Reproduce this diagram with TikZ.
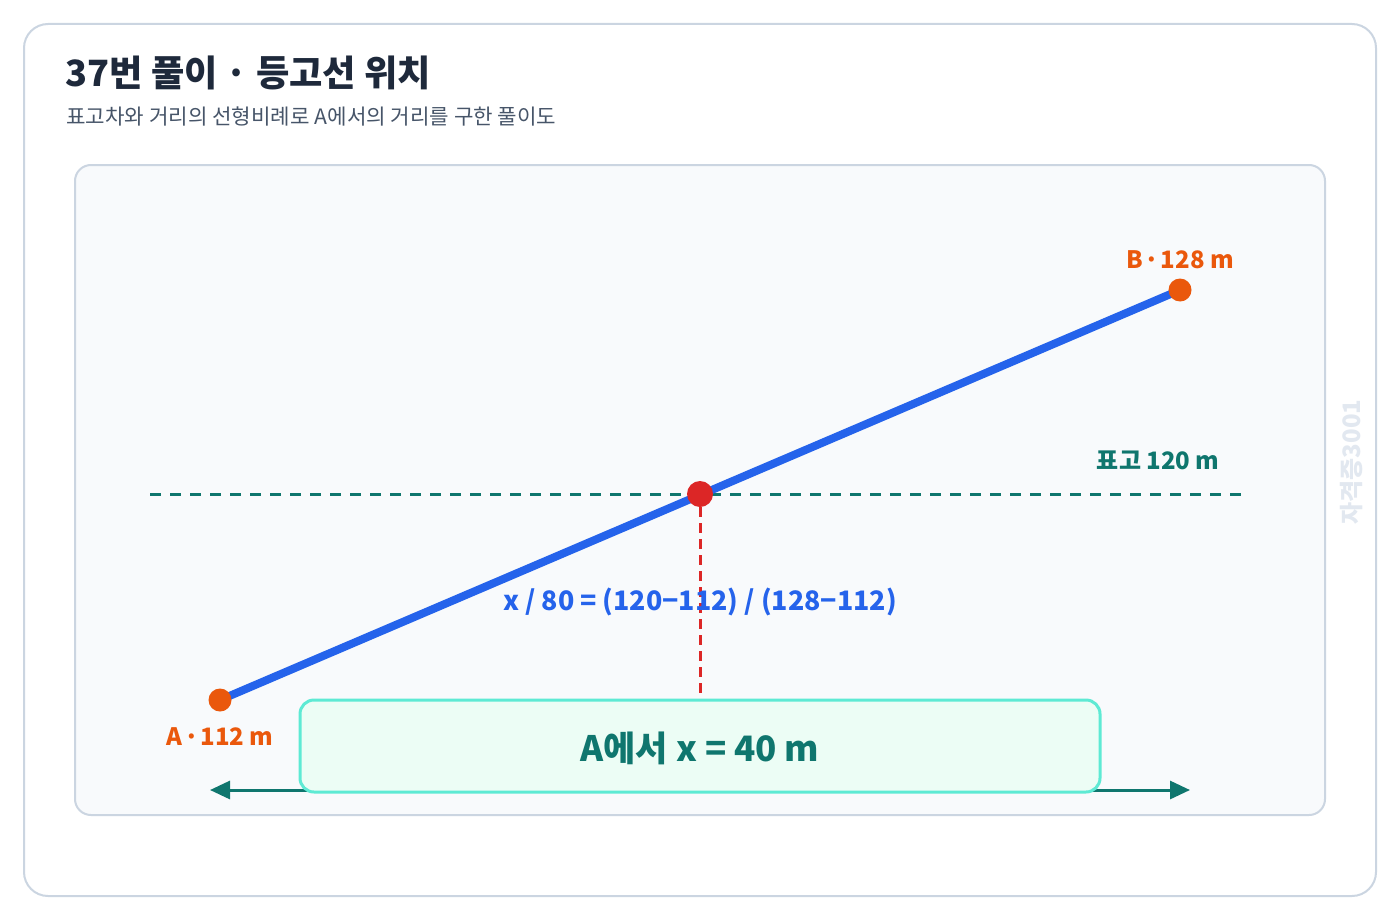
\documentclass[tikz,border=0pt]{standalone}
\usepackage{fontspec}
\setmainfont{Noto Sans CJK KR}
\usepackage{tikz}
\usetikzlibrary{arrows.meta}
\usetikzlibrary{positioning}
\definecolor{cadre}{HTML}{CBD5E1}
\definecolor{fond}{HTML}{F8FAFC}
\definecolor{titre}{HTML}{1E293B}
\definecolor{soustitre}{HTML}{475569}
\definecolor{bleu}{HTML}{2563EB}
\definecolor{orangept}{HTML}{EA580C}
\definecolor{rouge}{HTML}{DC2626}
\definecolor{sarcelle}{HTML}{0F766E}
\definecolor{menthe}{HTML}{ECFDF5}
\definecolor{bordmenthe}{HTML}{5EEAD4}
\definecolor{filigrane}{HTML}{E2E8F0}
\newcommand{\mdot}{\makebox[0.3em]{·}}
\tikzstyle{carte}=[draw=cadre,line width=1pt,fill=white,rounded corners=12pt]
\tikzstyle{panneau}=[draw=cadre,line width=1pt,fill=fond,rounded corners=8pt]
\tikzstyle{point}=[circle,fill=orangept,inner sep=0pt,minimum size=11.5pt]
\tikzstyle{inter}=[circle,fill=rouge,inner sep=0pt,minimum size=13pt]
\tikzstyle{etiq}=[text=orangept,inner sep=0pt,anchor=base,font=\bfseries\fontsize{12}{14}\selectfont]
\tikzstyle{resultat}=[rectangle,draw=bordmenthe,fill=menthe,line width=1.5pt,rounded corners=7pt,
minimum width=400pt,minimum height=46pt]
\tikzstyle{suite}=[line width=4pt,bleu]
\tikzstyle{niveau}=[line width=1.5pt,sarcelle,dash pattern=on 5.5pt off 4.5pt]
\tikzstyle{repere}=[line width=1.5pt,rouge,dash pattern=on 5pt off 3pt]
\tikzstyle{fleche}=[line width=1.5pt,sarcelle,{Triangle[length=10pt,width=9pt]}-{Triangle[length=10pt,width=9pt]}]
\begin{document}
\begin{tikzpicture}[x=0.5pt,y=-0.5pt]
\useasboundingbox (0,0) rectangle (1400,920);
\draw[carte] (24,24) rectangle (1376,896);
\draw[panneau] (75,165) rectangle (1325,815);
\node[anchor=base west,inner sep=0pt,text=titre,font=\bfseries\fontsize{18.1}{20}\selectfont] (titre) at (65,87) {37번 풀이 · 등고선 위치};
\node[anchor=base west,inner sep=0pt,text=soustitre,font=\fontsize{10.6}{12}\selectfont] (sous) at (66,125) {표고차와 거리의 선형비례로 A에서의 거리를 구한 풀이도};
\node[anchor=base,inner sep=0pt,rotate=90,text=filigrane,font=\bfseries\fontsize{12}{14}\selectfont] (marque) at (1360,462) {자격증3001};
\coordinate (a) at (220,700);
\coordinate (b) at (1180,290);
\coordinate (g) at (150,494);
\coordinate (d) at (1242,494);
\coordinate (fg) at (210,790);
\coordinate (fd) at (1190,790);
%Placementdeslignes
\draw[niveau] (g) -- (d);
\draw[suite] (a) -- (b);
\draw[fleche] (fg) -- (fd);
\node[point] (pa) at (a) {};
\node[point] (pb) at (b) {};
\node[inter] (p) at (700,494) {};
\node[resultat] (res) at (700,746) {};
\node[anchor=base,inner sep=0pt,text=sarcelle,font=\bfseries\fontsize{17.5}{20}\selectfont] (x) at (700,761) {A에서 x = 40 m};
\draw[repere] (p) -- (res.north);
%Placementdesetiquettes
\node[etiq] (ea) at (220,745) {A \mdot{} 112 m};
\node[etiq] (eb) at (1180,268) {B \mdot{} 128 m};
\node[etiq,text=sarcelle,anchor=base east] (ec) at (1220,469) {표고 120 m};
\node[anchor=base,inner sep=0pt,text=bleu,font=\bfseries\fontsize{13.4}{16}\selectfont] (eq) at (700,610) {x / 80 = (120−112) / (128−112)};
\end{tikzpicture}
\end{document}
